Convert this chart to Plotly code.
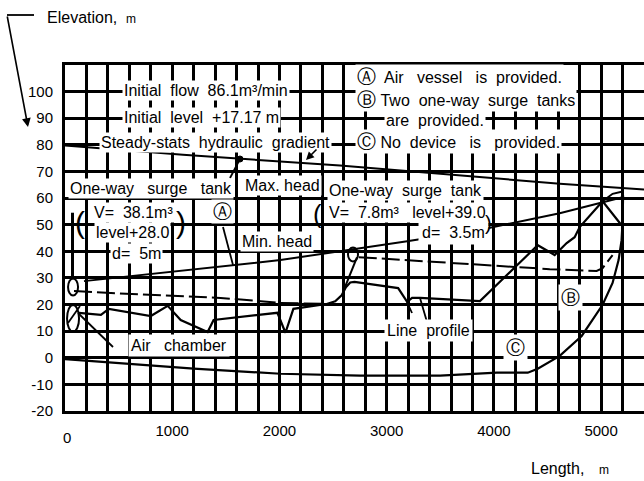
import plotly.graph_objects as go

FONT = "Liberation Sans, Arial, sans-serif"

# ---------------- axis ticks ----------------
length_ticks = [0, 200, 400, 600, 800, 1000, 1200, 1400, 1600, 1800, 2000, 2200, 2400, 2600,
                2800, 3000, 3200, 3400, 3600, 3800, 4000, 4200, 4400, 4600, 4800, 5000, 5200, 5400]
length_labels = ["", "", "", "", "", "1000", "", "", "", "", "2000", "", "", "", "",
                 "3000", "", "", "", "", "4000", "", "", "", "", "5000", "", ""]
elev_ticks = [-20, -10, 0, 10, 20, 30, 40, 50, 60, 70, 80, 90, 100, 110]
elev_labels = ["-20", "-10", "0", "10", "20", "30", "40", "50", "60", "70", "80", "90", "100", ""]

# ---------------- series (length m, elevation m) ----------------
hgl_len = [0, 1100, 2565, 3500, 4615, 5400]
hgl_elev = [79.8, 76.3, 72.2, 69.2, 65.4, 63.2]

maxhead_len = [177, 2009, 3191, 3898, 4614, 5014, 5200]
maxhead_elev = [28.8, 36.7, 43.8, 48.3, 54.3, 58.4, 60.3]

reservoir_len = [5014, 5107, 5200]
reservoir_elev = [58.8, 61.6, 62.5]

profile_len = [130, 335, 409, 800, 958, 1079, 1330, 1386, 1981, 2056, 2130, 2440, 2520,
               2580, 2620, 2660, 2700, 3107, 3191, 3237, 3312, 3870, 4409, 4567, 4679,
               4753, 4800, 5014, 5191]
profile_elev = [16.9, 16.1, 18.4, 15.7, 19.5, 14.2, 9.7, 14.2, 16.9, 9.4, 18.4, 20.2, 21.2,
                23.5, 26.5, 28.3, 28.5, 26.2, 21.0, 22.5, 22.5, 21.3, 42.3, 38.6, 43.1,
                45.3, 49.1, 58.8, 49.8]

minB1_len = [84, 428, 1451, 2009, 2474]
minB1_elev = [25.1, 24.3, 22.5, 20.6, 20.2]

minB2_len = [2740, 3191, 3498, 4521, 4958, 5014, 5107]
minB2_elev = [37.8, 36.7, 36.0, 33.3, 32.6, 33.7, 38.6]

minC_len = [0, 1200, 2009, 2753, 3498, 4028, 4316, 4409, 4614, 4819, 5014, 5107, 5163,
            5191, 5200, 5205]
minC_elev = [-0.5, -4.1, -6.0, -6.7, -6.7, -5.6, -5.6, -4.1, 0.7, 8.2, 19.9, 28.1, 36.7,
             44.2, 50.9, 61.0]

riser1_len = [70, 70]
riser1_elev = [54.5, 29.5]
riser2_len = [2723, 2611]
riser2_elev = [37.7, 26.5]

tank_len = [75, 75, 2686]
tank_elev = [26.6, 14.8, 38.8]

# ---------------- layout geometry helpers (pixels) ----------------
W, H = 644, 481
PL, PR, PT, PB = 65, 644, 65, 411
X0, X1 = 0, 5400
Y0, Y1 = -20, 110


def d(px, py):
    return (X0 + (px - PL) / (PR - PL) * (X1 - X0), Y0 + (PB - py) / (PB - PT) * (Y1 - Y0))


def p(px, py):
    return ((px - PL) / (PR - PL), (PB - py) / (PB - PT))


fig = go.Figure()


def add_line(xs, ys, width=2.0, dash=None):
    fig.add_trace(go.Scatter(x=xs, y=ys, mode="lines", hoverinfo="skip",
                             line=dict(color="black", width=width, dash=dash),
                             showlegend=False))


add_line(hgl_len, hgl_elev)
add_line(maxhead_len, maxhead_elev)
add_line(reservoir_len, reservoir_elev)
add_line(profile_len, profile_elev, 2.2)
add_line(minB1_len, minB1_elev, 2.0, "18px,5px")
add_line(minB2_len, minB2_elev, 2.0, "18px,5px")
add_line(minC_len, minC_elev, 2.2)
add_line(riser1_len, riser1_elev, 3.0)
add_line(riser2_len, riser2_elev, 2.0)

shapes = []
# white masks over the grid (drawn between grid and traces)
for (ax0, ay0, ax1, ay1) in [(350, 67, 646, 136), (350, 136, 578, 151), (77, 176, 236, 198),
                             (77, 198, 197, 249), (238, 173, 486, 196), (305, 196, 486, 240),
                             (238, 229, 322, 252)]:
    a = p(ax0, ay0)
    b = p(ax1, ay1)
    shapes.append(dict(type="rect", xref="paper", yref="paper", x0=a[0], x1=b[0],
                       y0=b[1], y1=a[1], fillcolor="white", line=dict(width=0),
                       layer="between"))

# tank / air chamber symbols
tank_w = [10, 12, 10]
tank_h = [17, 27, 14]
for i in range(len(tank_len)):
    shapes.append(dict(type="circle", xref="x", yref="y", xsizemode="pixel",
                       ysizemode="pixel", xanchor=tank_len[i], yanchor=tank_elev[i],
                       x0=-tank_w[i] / 2, x1=tank_w[i] / 2, y0=-tank_h[i] / 2,
                       y1=tank_h[i] / 2, line=dict(color="black", width=2),
                       layer="above"))

# leader lines
for (a, b) in [((78, 313), (113, 347)), ((223, 227), (233, 265)), ((230, 178), (240, 159)),
               ((407, 302), (412, 313)), ((420, 298), (427, 322)), ((68, 323), (80, 306))]:
    pa, pb = d(*a), d(*b)
    shapes.append(dict(type="line", xref="x", yref="y", x0=pa[0], y0=pa[1], x1=pb[0],
                       y1=pb[1], line=dict(color="black", width=1.8), layer="above"))

# dot on the hydraulic gradient
c = d(240, 159)
shapes.append(dict(type="circle", xref="x", yref="y", xsizemode="pixel", ysizemode="pixel",
                   xanchor=c[0], yanchor=c[1], x0=-3, x1=3, y0=-3, y1=3,
                   fillcolor="black", line=dict(color="black", width=1), layer="above"))

# elevation bracket arrow (horizontal part)
e0, e1 = p(7, 15), p(34, 15)
shapes.append(dict(type="line", xref="paper", yref="paper", x0=e0[0], y0=e0[1], x1=e1[0],
                   y1=e1[1], line=dict(color="black", width=1.8)))

annotations = []


def txt(s, px, py, anchor="left", size=16, bg="white", pad=1):
    x, y = d(px, py)
    annotations.append(dict(text=s, x=x, y=y, xref="x", yref="y", showarrow=False,
                            xanchor=anchor, yanchor="middle", bgcolor=bg, borderpad=pad,
                            font=dict(family=FONT, size=size, color="black")))


def circ(ch):
    return f'<span style="font-size:19px">{ch}</span>'


NB = "\u00a0"
S2 = NB + " "
S3 = NB + NB + " "
txt(f"Initial{S2}flow{S2}86.1m³/min", 122, 90)
txt(f"Initial{S2}level{S2}+17.17 m", 122, 117)
txt(f"Steady-stats{S2}hydraulic{S2}gradient", 99, 142)
txt(f"{circ('Ⓐ')}{S2}Air{S3}vessel{S3}is{S2}provided.", 355, 76)
txt(f"{circ('Ⓑ')}{NB}Two{S2}one-way{S2}surge{S2}tanks", 355, 99)
txt(f"are{S2}provided.", 384, 120)
txt(f"{circ('Ⓒ')}{NB}No{S2}device{S3}is{S3}provided.", 355, 141)
txt(f"One-way{S3}surge{S3}tank", 68, 188)
txt(f"V={S2}38.1m³", 133, 212, "center")
txt("level+28.0", 132, 232, "center")
txt(f"d={S2}5m", 136, 253, "center")
txt("Max. head", 243, 185)
txt(circ("Ⓐ"), 222, 211, "center")
txt("Min. head", 240, 241)
txt(f"One-way{S2}surge{S2}tank", 327, 190)
txt(f"V={S2}7.8m³{S3}level+39.0", 327, 212)
txt(f"d={S2}3.5m", 418, 232, pad=3)
txt(f"Air{S3}chamber", 128, 345, pad=2)
txt(f"Line{S2}profile", 384, 330, pad=2)
txt(circ("Ⓑ"), 570, 297, "center", pad=2)
txt(circ("Ⓒ"), 515, 347, "center", pad=2)
txt("(", 80, 222, "center", 30, bg="rgba(0,0,0,0)")
txt(")", 181, 222, "center", 30, bg="rgba(0,0,0,0)")
txt("(", 317, 214, "center", 26, bg="rgba(0,0,0,0)")
txt(")", 488, 223, "center", 20, bg="rgba(0,0,0,0)")

# arrows
h, t = d(306, 160), d(318, 148)
annotations.append(dict(x=h[0], y=h[1], ax=t[0], ay=t[1], xref="x", yref="y", axref="x",
                        ayref="y", text="", showarrow=True, arrowhead=2, arrowsize=1,
                        arrowwidth=1.6, arrowcolor="black"))
ah = p(28, 127)
annotations.append(dict(x=ah[0], y=ah[1], xref="paper", yref="paper", ax=-21, ay=-112,
                        text="", showarrow=True, arrowhead=2, arrowsize=1.1,
                        arrowwidth=1.6, arrowcolor="black"))


def ptxt(s, px, py, anchor="left", size=16):
    x, y = p(px, py)
    annotations.append(dict(text=s, x=x, y=y, xref="paper", yref="paper", showarrow=False,
                            xanchor=anchor, yanchor="middle",
                            font=dict(family=FONT, size=size, color="black")))


ptxt("Elevation,", 45, 17)
ptxt("m", 124, 19, size=12)
ptxt("Length,", 529, 468)
ptxt("m", 597, 470, size=12)
ptxt("0", 67, 437, "center", 15)

axis_common = dict(showgrid=True, gridcolor="black", gridwidth=2.5, zeroline=False,
                   showline=True, linecolor="black", linewidth=3, mirror=True, ticks="",
                   tickfont=dict(family=FONT, size=15, color="black"), automargin=False,
                   fixedrange=True)

fig.update_layout(
    width=W, height=H,
    margin=dict(l=PL, r=W - PR, t=PT, b=H - PB),
    paper_bgcolor="white", plot_bgcolor="white",
    showlegend=False,
    xaxis=dict(range=[X0, X1], tickmode="array", tickvals=length_ticks,
               ticktext=length_labels, ticklabelstandoff=4, **axis_common),
    yaxis=dict(range=[Y0, Y1], tickmode="array", tickvals=elev_ticks,
               ticktext=elev_labels, ticklabelstandoff=6, **axis_common),
    shapes=shapes,
    annotations=annotations,
)

fig.write_html("out.html", config={"displayModeBar": False},
               post_script="document.body.style.margin='0';document.body.style.overflow='hidden';")
